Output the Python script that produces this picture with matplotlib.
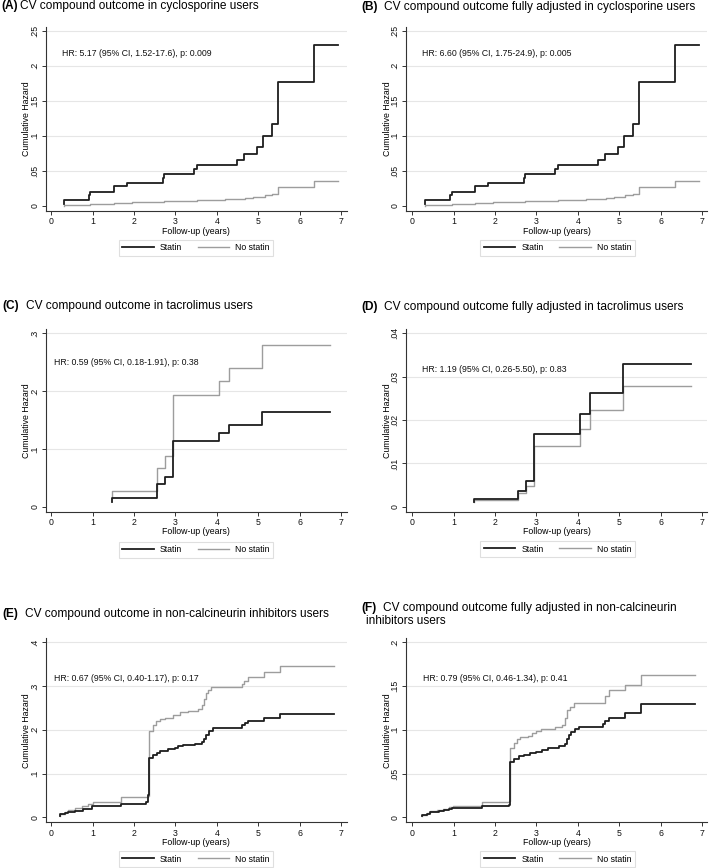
import matplotlib.pyplot as plt

plt.rcParams['font.family'] = ['Liberation Sans', 'DejaVu Sans']

W, H = 709, 868

# ---- data ----
# (A) / (B) cyclosporine users
statin_a_t = [0.31, 0.31, 0.91, 0.95, 1.52, 1.83, 2.70, 2.73, 3.44, 3.53, 4.48, 4.65, 4.98, 5.12, 5.34, 5.47, 6.34, 6.92]
statin_a_h = [0.003, 0.008, 0.015, 0.020, 0.028, 0.033, 0.039, 0.045, 0.052, 0.058, 0.065, 0.074, 0.084, 0.100, 0.117, 0.176, 0.229, 0.229]
nostatin_a_t = [0.31, 0.31, 0.95, 1.52, 1.95, 2.73, 3.53, 4.20, 4.48, 4.68, 4.88, 5.00, 5.15, 5.33, 5.48, 6.34, 6.92]
nostatin_a_h = [0.000, 0.001, 0.0025, 0.004, 0.005, 0.0065, 0.008, 0.009, 0.010, 0.011, 0.012, 0.013, 0.015, 0.017, 0.027, 0.035, 0.035]

statin_b_t = [0.31, 0.31, 0.91, 0.95, 1.52, 1.83, 2.70, 2.73, 3.44, 3.53, 4.48, 4.65, 4.98, 5.12, 5.34, 5.47, 6.34, 6.92]
statin_b_h = [0.003, 0.008, 0.015, 0.020, 0.028, 0.033, 0.039, 0.045, 0.052, 0.058, 0.065, 0.074, 0.084, 0.100, 0.117, 0.176, 0.229, 0.229]
nostatin_b_t = [0.31, 0.31, 0.95, 1.52, 1.95, 2.73, 3.53, 4.20, 4.48, 4.68, 4.88, 5.00, 5.15, 5.33, 5.48, 6.34, 6.92]
nostatin_b_h = [0.000, 0.001, 0.0025, 0.004, 0.005, 0.0065, 0.008, 0.009, 0.010, 0.011, 0.012, 0.013, 0.015, 0.017, 0.027, 0.035, 0.035]

# (C) / (D) tacrolimus users
statin_c_t = [1.48, 1.48, 2.56, 2.74, 2.95, 4.05, 4.30, 5.10, 6.74]
statin_c_h = [0.008, 0.016, 0.040, 0.052, 0.113, 0.127, 0.141, 0.164, 0.164]
nostatin_c_t = [1.48, 1.48, 2.56, 2.74, 2.95, 4.05, 4.30, 5.10, 6.74]
nostatin_c_h = [0.016, 0.027, 0.067, 0.088, 0.193, 0.217, 0.240, 0.279, 0.279]

statin_d_t = [1.49, 1.49, 2.56, 2.74, 2.95, 4.05, 4.30, 5.10, 6.74]
statin_d_h = [0.0010, 0.0018, 0.0037, 0.0059, 0.0167, 0.0213, 0.0262, 0.0330, 0.0330]
nostatin_d_t = [1.49, 1.49, 2.56, 2.74, 2.95, 4.05, 4.30, 5.10, 6.74]
nostatin_d_h = [0.0010, 0.0015, 0.0031, 0.0049, 0.0141, 0.0179, 0.0222, 0.0278, 0.0278]

# (E) / (F) non-calcineurin inhibitors users
statin_e_t = [0.22, 0.22, 0.34, 0.40, 0.58, 0.78, 0.98, 1.68, 2.30, 2.33, 2.36, 2.47, 2.55, 2.63, 2.83,
              2.99, 3.07, 3.19, 3.48, 3.64, 3.70, 3.74, 3.80, 3.90, 4.61, 4.67, 4.74, 5.13, 5.53, 6.82]
statin_e_h = [0.004, 0.007, 0.009, 0.012, 0.015, 0.019, 0.025, 0.031, 0.034, 0.050, 0.135, 0.142, 0.148, 0.152, 0.155,
              0.158, 0.162, 0.165, 0.168, 0.172, 0.180, 0.188, 0.198, 0.205, 0.212, 0.216, 0.220, 0.226, 0.236, 0.236]
nostatin_e_t = [0.22, 0.22, 0.34, 0.40, 0.58, 0.75, 0.90, 1.00, 1.68, 2.33, 2.36, 2.45, 2.53, 2.62, 2.75,
                2.95, 3.10, 3.30, 3.55, 3.65, 3.70, 3.74, 3.78, 3.86, 4.61, 4.65, 4.74, 5.13, 5.53, 6.82]
nostatin_e_h = [0.004, 0.008, 0.012, 0.018, 0.021, 0.026, 0.031, 0.036, 0.046, 0.048, 0.198, 0.210, 0.219, 0.224, 0.228,
                0.233, 0.240, 0.243, 0.248, 0.256, 0.270, 0.283, 0.290, 0.298, 0.305, 0.312, 0.321, 0.331, 0.345, 0.345]

statin_f_t = [0.23, 0.23, 0.35, 0.43, 0.64, 0.76, 0.88, 0.96, 1.68, 2.33, 2.35, 2.47, 2.57, 2.69, 2.85, 3.00,
              3.13, 3.27, 3.55, 3.68, 3.74, 3.78, 3.83, 3.92, 4.02, 4.60, 4.66, 4.75, 5.13, 5.52, 6.82]
statin_f_h = [0.002, 0.003, 0.004, 0.006, 0.007, 0.0085, 0.0095, 0.011, 0.0135, 0.0146, 0.063, 0.067, 0.070, 0.0715, 0.073, 0.075,
              0.077, 0.079, 0.081, 0.084, 0.089, 0.094, 0.098, 0.101, 0.103, 0.107, 0.110, 0.114, 0.119, 0.129, 0.129]
nostatin_f_t = [0.23, 0.23, 0.35, 0.42, 0.60, 0.75, 0.90, 0.98, 1.68, 2.33, 2.35, 2.45, 2.52, 2.60, 2.80,
                2.90, 3.00, 3.10, 3.45, 3.62, 3.70, 3.75, 3.82, 3.90, 4.60, 4.65, 4.75, 5.13, 5.52, 6.82]
nostatin_f_h = [0.002, 0.003, 0.005, 0.007, 0.009, 0.010, 0.012, 0.013, 0.018, 0.019, 0.079, 0.085, 0.089, 0.092, 0.093,
                0.096, 0.099, 0.101, 0.103, 0.106, 0.113, 0.122, 0.126, 0.130, 0.130, 0.138, 0.145, 0.151, 0.163, 0.163]

x_ticks = [0, 1, 2, 3, 4, 5, 6, 7]
y_ticks_a = [0, 0.05, 0.1, 0.15, 0.2, 0.25]
y_ticks_c = [0, 0.1, 0.2, 0.3]
y_ticks_d = [0, 0.01, 0.02, 0.03, 0.04]
y_ticks_e = [0, 0.1, 0.2, 0.3, 0.4]
y_ticks_f = [0, 0.05, 0.1, 0.15, 0.2]

tags = ['(A)', '(B)', '(C)', '(D)', '(E)', '(F)']
titles = ['CV compound outcome in cyclosporine users',
          'CV compound outcome fully adjusted in cyclosporine users',
          'CV compound outcome in tacrolimus users',
          'CV compound outcome fully adjusted in tacrolimus users',
          'CV compound outcome in non-calcineurin inhibitors users',
          'CV compound outcome fully adjusted in non-calcineurin']
hr_texts = ['HR: 5.17 (95% CI, 1.52-17.6), p: 0.009',
            'HR: 6.60 (95% CI, 1.75-24.9), p: 0.005',
            'HR: 0.59 (95% CI, 0.18-1.91), p: 0.38',
            'HR: 1.19 (95% CI, 0.26-5.50), p: 0.83',
            'HR: 0.67 (95% CI, 0.40-1.17), p: 0.17',
            'HR: 0.79 (95% CI, 0.46-1.34), p: 0.41']

DARK = '#1e1e1e'
GREY = '#9d9d9d'
SMALL = 6.3

fig = plt.figure(figsize=(W / 100, H / 100), dpi=100)


def fmt(v):
    s = f'{v:g}'
    return s.lstrip('0') or '0'


def draw_panel(box, xlim, yticks, statin, nostatin, hr, hr_pos, title_pos, tag, title, gap, legend_xy):
    left, top, right, bottom = box
    ax = fig.add_axes([left / W, 1 - bottom / H, (right - left) / W, (bottom - top) / H])
    ymax = yticks[-1]
    ax.set_xlim(*xlim)
    ax.set_ylim(-0.028 * ymax, 1.022 * ymax)

    # horizontal grid at the non-zero ticks only
    for v in yticks[1:]:
        ax.axhline(v, color='#e6e6e6', lw=0.8, zorder=0)

    ax.step(statin[0], statin[1], where='post', color=DARK, lw=1.3, label='Statin', zorder=3)
    ax.step(nostatin[0], nostatin[1], where='post', color=GREY, lw=1.0, label='No statin', zorder=2)

    ax.set_xticks(x_ticks)
    ax.set_yticks(yticks)
    ax.set_yticklabels([fmt(v) for v in yticks], rotation=90, va='center')
    ax.tick_params(length=3.2, width=0.7, pad=1.5, labelsize=SMALL, colors='#333333', labelcolor='#111111')
    for s in ['top', 'right']:
        ax.spines[s].set_visible(False)
    for s in ['left', 'bottom']:
        ax.spines[s].set_color('#333333')
        ax.spines[s].set_linewidth(0.8)

    ax.set_xlabel('Follow-up (years)', fontsize=SMALL)
    ax.set_ylabel('Cumulative Hazard', fontsize=SMALL)
    ax.xaxis.label.set_va('center')
    ax.yaxis.label.set_va('center')
    ax.xaxis.set_label_coords(0.5, -(231 - 210.7) / 184)
    ax.yaxis.set_label_coords(-(45.7 - 26.7) / 301, 0.5)

    ax.text(hr_pos[0], hr_pos[1], hr, transform=ax.transAxes, fontsize=SMALL, va='center', ha='left', color='#111111')

    t = ax.annotate(tag, xy=(title_pos[0], H - title_pos[1]), xycoords='figure pixels',
                    fontsize=8.6, fontweight='bold', va='baseline', ha='left', annotation_clip=False)
    ax.annotate(title, xy=(1, 0), xycoords=t, xytext=(gap * 0.72, 0), textcoords='offset points',
                fontsize=8.6, va='bottom', ha='left', annotation_clip=False)

    leg = ax.legend(loc='center', bbox_to_anchor=(legend_xy[0] / W, 1 - legend_xy[1] / H),
                    bbox_transform=fig.transFigure, ncol=2, fontsize=SMALL, frameon=True,
                    fancybox=False, handlelength=3.6, handletextpad=0.7, columnspacing=1.8,
                    borderpad=0.4)
    leg.get_frame().set_edgecolor('#d8d8d8')
    leg.get_frame().set_linewidth(0.8)
    return ax


left_x = (-0.13, 7.14)
right_x = (-0.15, 7.12)

draw_panel((45.7, 26.7, 347, 210.7), left_x, y_ticks_a, (statin_a_t, statin_a_h), (nostatin_a_t, nostatin_a_h),
           hr_texts[0], (0.053, 0.857), (1, 9.5), tags[0], titles[0], 2, (196, 247.5))
draw_panel((406, 26.7, 707, 210.7), right_x, y_ticks_a, (statin_b_t, statin_b_h), (nostatin_b_t, nostatin_b_h),
           hr_texts[1], (0.054, 0.855), (361, 10), tags[1], titles[1], 7, (557.5, 248))
draw_panel((45.7, 329.3, 347, 511.7), left_x, y_ticks_c, (statin_c_t, statin_c_h), (nostatin_c_t, nostatin_c_h),
           hr_texts[2], (0.029, 0.817), (2, 309.5), tags[2], titles[2], 7, (196, 549.5))
draw_panel((406, 329.3, 707, 511.7), right_x, y_ticks_d, (statin_d_t, statin_d_h), (nostatin_d_t, nostatin_d_h),
           hr_texts[3], (0.054, 0.777), (361, 310), tags[3], titles[3], 7, (557.5, 549))
draw_panel((45.7, 638.3, 347, 822.3), left_x, y_ticks_e, (statin_e_t, statin_e_h), (nostatin_e_t, nostatin_e_h),
           hr_texts[4], (0.029, 0.779), (2, 617.5), tags[4], titles[4], 7, (196, 859))
draw_panel((406, 638.3, 707, 822.3), right_x, y_ticks_f, (statin_f_t, statin_f_h), (nostatin_f_t, nostatin_f_h),
           hr_texts[5], (0.056, 0.779), (361, 611), tags[5], titles[5], 7, (557.5, 859))

# second line of the (F) title
fig.text(366 / W, 1 - 623.5 / H, 'inhibitors users', fontsize=8.6, va='baseline', ha='left')

fig.savefig('out.png', dpi=100)
